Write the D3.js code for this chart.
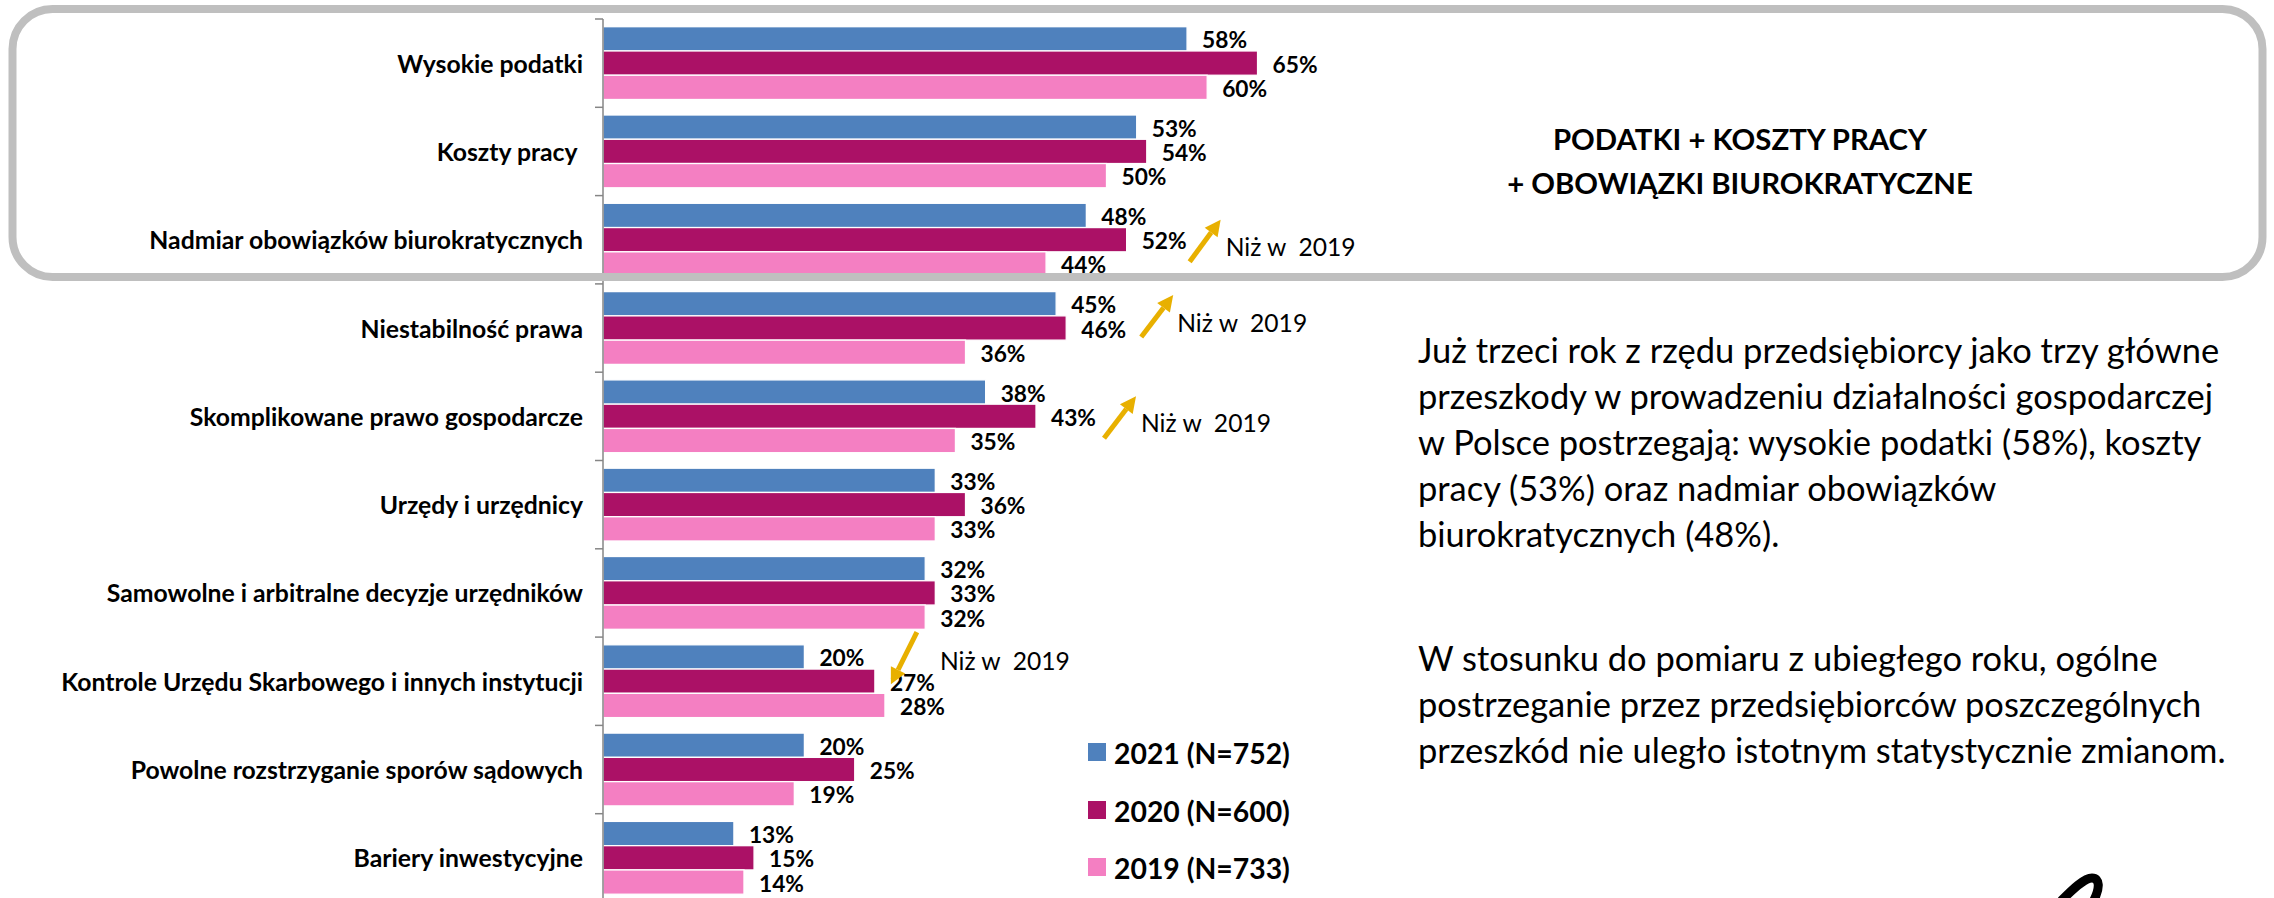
<!DOCTYPE html>
<html>
<head>
<meta charset="utf-8">
<script src="https://cdn.jsdelivr.net/npm/d3@7"></script>
<style>
  html, body { margin: 0; padding: 0; background: #fff; }
  svg { display: block; }
  text { white-space: pre; }
</style>
</head>
<body>
<svg id="chart" width="2274" height="898"></svg>
<script>
// ---------------- DATA ----------------
const categories = [
  "Wysokie podatki",
  "Koszty pracy ",
  "Nadmiar obowiązków biurokratycznych",
  "Niestabilność prawa",
  "Skomplikowane prawo gospodarcze",
  "Urzędy i urzędnicy",
  "Samowolne i arbitralne decyzje urzędników",
  "Kontrole Urzędu Skarbowego i innych instytucji",
  "Powolne rozstrzyganie sporów sądowych",
  "Bariery inwestycyjne"
];
const values2021 = [58, 53, 48, 45, 38, 33, 32, 20, 20, 13];
const values2020 = [65, 54, 52, 46, 43, 36, 33, 27, 25, 15];
const values2019 = [60, 50, 44, 36, 35, 33, 32, 28, 19, 14];
const seriesNames = ["2021 (N=752)", "2020 (N=600)", "2019 (N=733)"];
const annotationCategories = [
  "Nadmiar obowiązków biurokratycznych",
  "Niestabilność prawa",
  "Skomplikowane prawo gospodarcze",
  "Kontrole Urzędu Skarbowego i innych instytucji"
];
const annotationText = "Niż w  2019";
const titleLines = ["PODATKI + KOSZTY PRACY", "+ OBOWIĄZKI BIUROKRATYCZNE"];
const paragraph1 = [
  "Już trzeci rok z rzędu przedsiębiorcy jako trzy główne",
  "przeszkody w prowadzeniu działalności gospodarczej",
  "w Polsce postrzegają: wysokie podatki (58%), koszty",
  "pracy (53%) oraz nadmiar obowiązków",
  "biurokratycznych (48%)."
];
const paragraph2 = [
  "W stosunku do pomiaru z ubiegłego roku, ogólne",
  "postrzeganie przez przedsiębiorców poszczególnych",
  "przeszkód nie uległo istotnym statystycznie zmianom."
];

// ---------------- LAYOUT / STYLE ----------------
const FONT = "Lato, 'Noto Sans', sans-serif";
const colors = ["#4F81BD", "#AB1166", "#F47FC2"];
const arrowColor = "#E8B000";
const seriesValues = [values2021, values2020, values2019];

// annotation arrow offsets, relative to the end of the 2020 bar and its centre
const annotationLayout = [
  { tail: [63, 22], head: [94, -20], text: [99, 7] },
  { tail: [75, 9], head: [107, -33], text: [111, -6] },
  { tail: [68, 22], head: [100, -20], text: [105, 6] },
  { tail: [42, -49], head: [16, 3], text: [65, -21] }
];

const svg = d3.select("#chart");

function fit(str, weight, target) {
  const t = svg.append("text").attr("font-family", FONT).attr("font-weight", weight)
    .attr("font-size", 100).text(str);
  const w = t.node().getComputedTextLength();
  t.remove();
  return 100 * target / w;
}
const catSize = fit("Kontrole Urzędu Skarbowego i innych instytucji", "bold", 522);
const valSize = fit("52%", "bold", 45);
const legSize = fit("2021 (N=752)", "bold", 176);
const nizSize = fit(annotationText, "normal", 130);
const titleSize = fit(titleLines[1], "bold", 466);
const paraSize = fit(paragraph2[2], "normal", 808);

// ---------------- SCALES ----------------
const x = d3.scaleLinear().domain([0, 100]).range([603, 1610]);
const y = d3.scaleBand().domain(categories).range([19, 19 + 88.3 * categories.length]).padding(0);
const ySub = d3.scaleBand().domain(d3.range(seriesNames.length)).range([7.7, 80.5]).padding(0);

// ---------------- BARS ----------------
const g = svg.append("g");
categories.forEach((cat, ci) => {
  seriesValues.forEach((vals, si) => {
    const by = y(cat) + ySub(si);
    g.append("rect")
      .attr("x", x(0))
      .attr("y", by)
      .attr("width", x(vals[ci]) - x(0))
      .attr("height", ySub.bandwidth())
      .attr("fill", colors[si])
      .attr("stroke", "#ffffff")
      .attr("stroke-width", 1.3);
    g.append("text")
      .attr("x", x(vals[ci]) + 15)
      .attr("y", by + ySub.bandwidth() / 2 + 1)
      .attr("dominant-baseline", "central")
      .attr("font-family", FONT)
      .attr("font-weight", "bold")
      .attr("font-size", valSize)
      .attr("fill", "#000")
      .text(vals[ci] + "%");
  });
});

// ---------------- AXIS ----------------
const axisG = svg.append("g").attr("transform", `translate(${x(0)},0)`);
axisG.append("line")
  .attr("x1", 0).attr("x2", 0).attr("y1", y.range()[0]).attr("y2", 898)
  .attr("stroke", "#868686").attr("stroke-width", 1.5);
categories.forEach(cat => {
  axisG.append("line")
    .attr("x1", -8).attr("x2", 0).attr("y1", y(cat)).attr("y2", y(cat))
    .attr("stroke", "#868686").attr("stroke-width", 1.5);
  svg.append("text")
    .attr("x", x(0) - 20)
    .attr("y", y(cat) + y.bandwidth() / 2)
    .attr("text-anchor", "end")
    .attr("dominant-baseline", "central")
    .attr("font-family", FONT)
    .attr("font-weight", "bold")
    .attr("font-size", catSize)
    .attr("fill", "#000")
    .text(cat);
});

// ---------------- ANNOTATIONS ----------------
annotationCategories.forEach((cat, i) => {
  const ci = categories.indexOf(cat);
  const bx = x(values2020[ci]);
  const bc = y(cat) + ySub(1) + ySub.bandwidth() / 2;
  const L = annotationLayout[i];
  const tx = bx + L.tail[0], ty = bc + L.tail[1];
  const hx = bx + L.head[0], hy = bc + L.head[1];
  const ang = Math.atan2(hy - ty, hx - tx);
  const hl = 16, hw = 8;
  const baseX = hx - hl * Math.cos(ang), baseY = hy - hl * Math.sin(ang);
  svg.append("line")
    .attr("x1", tx).attr("y1", ty).attr("x2", baseX).attr("y2", baseY)
    .attr("stroke", arrowColor).attr("stroke-width", 5);
  const px = -Math.sin(ang), py = Math.cos(ang);
  svg.append("path")
    .attr("d", `M${hx},${hy}L${baseX + px * hw},${baseY + py * hw}L${baseX - px * hw},${baseY - py * hw}Z`)
    .attr("fill", arrowColor);
  svg.append("text")
    .attr("x", bx + L.text[0])
    .attr("y", bc + L.text[1])
    .attr("dominant-baseline", "central")
    .attr("font-family", FONT)
    .attr("font-size", nizSize)
    .attr("fill", "#000")
    .text(annotationText);
});

// ---------------- LEGEND ----------------
const legendY = [752, 810, 867];
seriesNames.forEach((name, i) => {
  svg.append("rect")
    .attr("x", 1088).attr("y", legendY[i] - 9).attr("width", 18).attr("height", 18)
    .attr("fill", colors[i]);
  svg.append("text")
    .attr("x", 1114).attr("y", legendY[i] + 1)
    .attr("dominant-baseline", "central")
    .attr("font-family", FONT).attr("font-weight", "bold")
    .attr("font-size", legSize).attr("fill", "#000")
    .text(name);
});

// ---------------- ROUNDED BOX ----------------
svg.append("rect")
  .attr("x", 12.5).attr("y", 9).attr("width", 2250).attr("height", 268)
  .attr("rx", 40).attr("ry", 40)
  .attr("fill", "none").attr("stroke", "#BFBFBF").attr("stroke-width", 8);

// ---------------- TITLE / TEXT ----------------
titleLines.forEach((t, i) => {
  svg.append("text")
    .attr("x", 1740).attr("y", 138 + i * 44)
    .attr("text-anchor", "middle").attr("dominant-baseline", "central")
    .attr("font-family", FONT).attr("font-weight", "bold")
    .attr("font-size", titleSize).attr("fill", "#000")
    .text(t);
});
paragraph1.forEach((t, i) => {
  svg.append("text")
    .attr("x", 1418).attr("y", 349 + i * 46)
    .attr("dominant-baseline", "central")
    .attr("font-family", FONT).attr("font-size", paraSize).attr("fill", "#000")
    .text(t);
});
paragraph2.forEach((t, i) => {
  svg.append("text")
    .attr("x", 1418).attr("y", 657 + i * 46)
    .attr("dominant-baseline", "central")
    .attr("font-family", FONT).attr("font-size", paraSize).attr("fill", "#000")
    .text(t);
});

// ---------------- LOGO FRAGMENT (bottom right, cut off) ----------------
svg.append("path")
  .attr("d", "M2062,900 C2072,890 2084,878 2092,878 C2100,878 2100,888 2094,900")
  .attr("fill", "none").attr("stroke", "#000").attr("stroke-width", 9)
  .attr("stroke-linecap", "round");
</script>
</body>
</html>
